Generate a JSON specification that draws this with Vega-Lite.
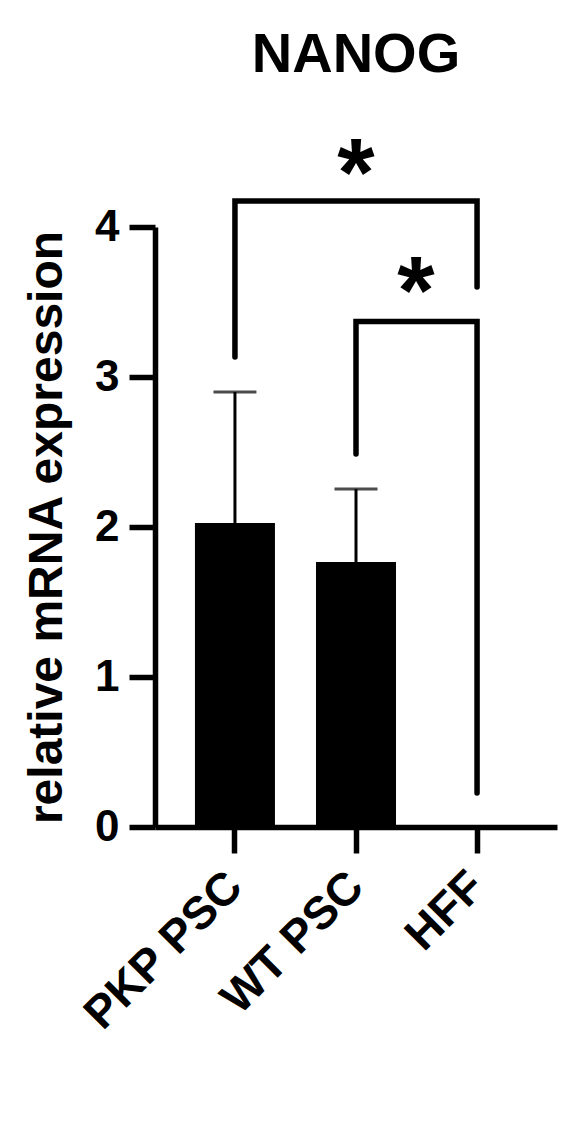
{
  "$schema": "https://vega.github.io/schema/vega-lite/v6.json",
  "width": 402,
  "height": 600,
  "autosize": "none",
  "padding": {"left": 155, "top": 227, "right": 31, "bottom": 311},
  "background": "white",
  "title": {
    "text": "NANOG",
    "font": "Liberation Sans",
    "fontSize": 56,
    "fontWeight": "bold",
    "color": "black",
    "anchor": "middle",
    "frame": "group",
    "baseline": "bottom",
    "offset": -12
  },
  "config": {
    "view": {"stroke": null},
    "axis": {
      "domainColor": "black",
      "tickColor": "black",
      "labelColor": "black",
      "titleColor": "black",
      "labelFont": "Liberation Sans",
      "titleFont": "Liberation Sans",
      "labelFontWeight": "bold",
      "titleFontWeight": "bold",
      "grid": false,
      "domainWidth": 5.5,
      "tickWidth": 5.5,
      "tickSize": 26,
      "labelLimit": 0
    }
  },
  "datasets": {
    "bars": [
      {"group": "PKP PSC", "mean": 2.027},
      {"group": "WT PSC", "mean": 1.767},
      {"group": "HFF", "mean": 0.005}
    ],
    "errs": [
      {"group": "PKP PSC", "mean": 2.027, "err_top": 2.9},
      {"group": "WT PSC", "mean": 1.767, "err_top": 2.253}
    ],
    "brackets": [
      {"bracket": "A", "idx": 0, "group": "PKP PSC", "v": 3.133},
      {"bracket": "A", "idx": 1, "group": "PKP PSC", "v": 4.173},
      {"bracket": "A", "idx": 2, "group": "HFF", "v": 4.173},
      {"bracket": "A", "idx": 3, "group": "HFF", "v": 3.6},
      {"bracket": "B", "idx": 0, "group": "WT PSC", "v": 2.487},
      {"bracket": "B", "idx": 1, "group": "WT PSC", "v": 3.37},
      {"bracket": "B", "idx": 2, "group": "HFF", "v": 3.37},
      {"bracket": "B", "idx": 3, "group": "HFF", "v": 0.227}
    ],
    "star1": [{"group": "WT PSC", "y": 4.15, "label": "*"}],
    "star2": [{"group": "WT PSC", "y": 3.36, "label": "*"}]
  },
  "layer": [
    {
      "data": {"name": "bars"},
      "mark": {"type": "bar", "color": "black"},
      "encoding": {
        "x": {
          "field": "group",
          "type": "nominal",
          "scale": {"type": "band", "domain": ["PKP PSC", "WT PSC", "HFF"], "paddingInner": 0.339, "paddingOuter": 0.33},
          "axis": {"title": null, "labelAngle": -45, "labelAlign": "right", "labelBaseline": "middle", "labelFontSize": 46, "labelPadding": 26}
        },
        "y": {
          "field": "mean",
          "type": "quantitative",
          "scale": {"domain": [0, 4], "nice": false},
          "axis": {"values": [0, 1, 2, 3, 4], "format": "d", "labelFontSize": 44, "labelPadding": 10, "title": "relative mRNA expression", "titleFontSize": 48, "titlePadding": 23}
        }
      }
    },
    {
      "data": {"name": "errs"},
      "mark": {"type": "rule", "color": "black", "strokeWidth": 3},
      "encoding": {
        "x": {"field": "group", "type": "nominal"},
        "y": {"field": "mean", "type": "quantitative"},
        "y2": {"field": "err_top"}
      }
    },
    {
      "data": {"name": "errs"},
      "mark": {"type": "tick", "color": "black", "thickness": 3, "size": 43, "orient": "horizontal"},
      "encoding": {
        "x": {"field": "group", "type": "nominal"},
        "y": {"field": "err_top", "type": "quantitative"}
      }
    },
    {
      "data": {"name": "brackets"},
      "mark": {"type": "line", "color": "black", "strokeWidth": 5.5, "strokeCap": "round", "strokeJoin": "miter"},
      "encoding": {
        "x": {"field": "group", "type": "nominal"},
        "y": {"field": "v", "type": "quantitative"},
        "detail": {"field": "bracket"},
        "order": {"field": "idx", "type": "quantitative"}
      }
    },
    {
      "data": {"name": "star1"},
      "mark": {"type": "text", "color": "black", "font": "Liberation Sans", "fontWeight": "bold", "fontSize": 96, "baseline": "alphabetic", "align": "center"},
      "encoding": {
        "x": {"field": "group", "type": "nominal"},
        "y": {"field": "y", "type": "quantitative"},
        "text": {"field": "label"}
      }
    },
    {
      "data": {"name": "star2"},
      "mark": {"type": "text", "color": "black", "font": "Liberation Sans", "fontWeight": "bold", "fontSize": 96, "baseline": "alphabetic", "align": "center"},
      "encoding": {
        "x": {"field": "group", "type": "nominal", "bandPosition": 1.25},
        "y": {"field": "y", "type": "quantitative"},
        "text": {"field": "label"}
      }
    }
  ]
}
